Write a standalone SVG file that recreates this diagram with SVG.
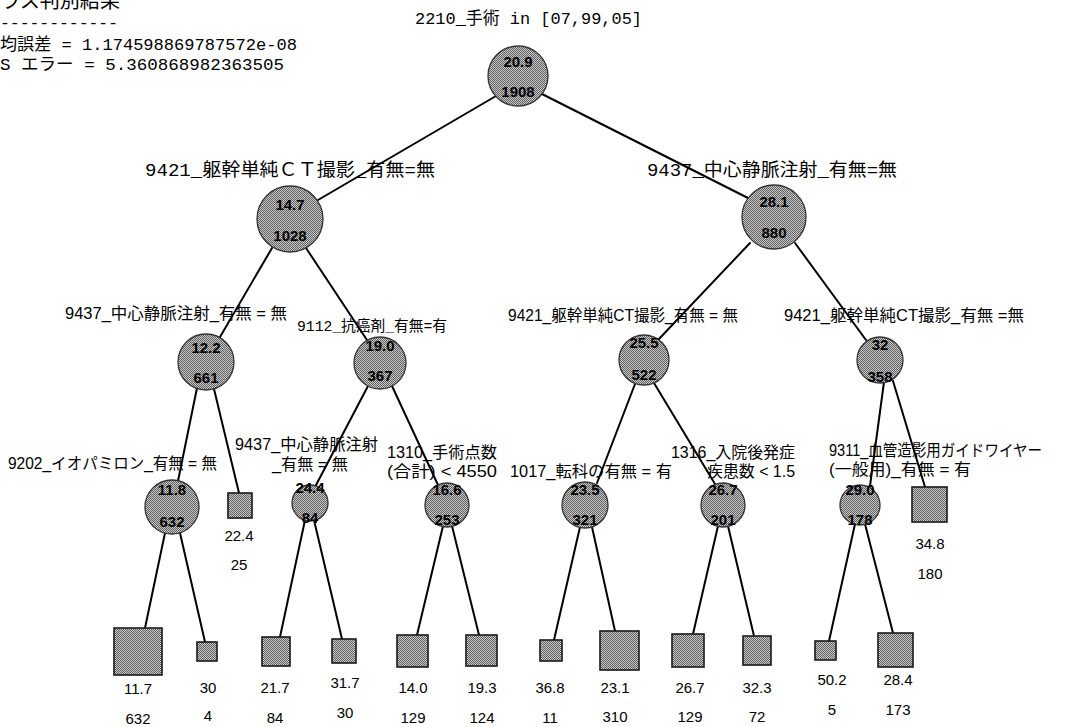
<svg xmlns="http://www.w3.org/2000/svg" width="1068" height="727" viewBox="0 0 1068 727">
<defs>
<pattern id="dots" width="2" height="2" patternUnits="userSpaceOnUse"><rect width="2" height="2" fill="#cacaca"/><rect width="1" height="1" fill="#5e5e5e"/><rect x="1" y="1" width="1" height="1" fill="#5e5e5e"/></pattern>
<style>
.e{stroke:#000;stroke-width:2;fill:none;stroke-linecap:round}
.c{fill:url(#dots);stroke:#333;stroke-width:1.3}
.s{fill:url(#dots);stroke:#1a1a1a;stroke-width:1.6}
.v{font-family:"Liberation Sans",Arial,sans-serif;font-weight:bold;font-size:15px;text-anchor:middle;fill:#000}
.lv{font-family:"Liberation Sans",Arial,sans-serif;font-size:15px;text-anchor:middle;fill:#000}
.l{font-family:"Liberation Sans","Noto Sans CJK JP",sans-serif;font-size:16px;fill:#000}
.m{font-family:"Liberation Mono","Noto Sans CJK JP",monospace;font-size:17px;fill:#000}
.m19{font-family:"Liberation Mono","Noto Sans CJK JP",monospace;font-size:18px;fill:#000}
.m15{font-family:"Liberation Mono","Noto Sans CJK JP",monospace;font-size:15px;fill:#000}
</style>
</defs>
<rect width="1068" height="727" fill="#fff"/>
<g id="info">
<text class="m" x="0" y="8" style="font-size:20px" textLength="120" lengthAdjust="spacingAndGlyphs">ラス判別結果</text>
<text class="m" x="0" y="28" textLength="118" lengthAdjust="spacingAndGlyphs">------------</text>
<text class="m" x="0" y="50" textLength="297" lengthAdjust="spacingAndGlyphs">均誤差 = 1.174598869787572e-08</text>
<text class="m" x="0" y="70" textLength="284" lengthAdjust="spacingAndGlyphs">S エラー = 5.360868982363505</text>
</g>
<g id="connectors">
<line class="e" x1="496" y1="96" x2="318" y2="200"/>
<line class="e" x1="542" y1="94" x2="748" y2="198"/>
<line class="e" x1="272" y1="248" x2="220" y2="337"/>
<line class="e" x1="306" y1="248" x2="367" y2="340"/>
<line class="e" x1="750" y1="243" x2="658" y2="340"/>
<line class="e" x1="795" y1="243" x2="866" y2="340"/>
<line class="e" x1="197" y1="388" x2="178" y2="481"/>
<line class="e" x1="214" y1="389" x2="239" y2="493"/>
<line class="e" x1="368" y1="386" x2="315" y2="487"/>
<line class="e" x1="392" y1="386" x2="438" y2="485"/>
<line class="e" x1="635" y1="384" x2="597" y2="483"/>
<line class="e" x1="654" y1="383" x2="715" y2="484"/>
<line class="e" x1="884" y1="382" x2="870" y2="486"/>
<line class="e" x1="893" y1="381" x2="925" y2="487"/>
<line class="e" x1="165" y1="533" x2="145" y2="628"/>
<line class="e" x1="180" y1="533" x2="205" y2="642"/>
<line class="e" x1="305" y1="520" x2="280" y2="637"/>
<line class="e" x1="314" y1="520" x2="342" y2="639"/>
<line class="e" x1="443" y1="526" x2="417" y2="635"/>
<line class="e" x1="452" y1="526" x2="479" y2="635"/>
<line class="e" x1="580" y1="527" x2="554" y2="640"/>
<line class="e" x1="592" y1="527" x2="615" y2="631"/>
<line class="e" x1="718" y1="526" x2="693" y2="634"/>
<line class="e" x1="728" y1="526" x2="754" y2="636"/>
<line class="e" x1="855" y1="524" x2="829" y2="641"/>
<line class="e" x1="865" y1="524" x2="893" y2="633"/>
</g>
<g id="n0">
<text class="m" x="415" y="24" textLength="227" lengthAdjust="spacingAndGlyphs">2210_手術 in [07,99,05]</text>
<circle class="c" cx="518" cy="76" r="30"/>
<text class="v" x="518" y="67">20.9</text><text class="v" x="518" y="97">1908</text>
</g>
<g id="n1">
<text class="m19" x="145" y="176" textLength="290" lengthAdjust="spacingAndGlyphs">9421_躯幹単純ＣＴ撮影_有無=無</text>
<circle class="c" cx="290" cy="219" r="33"/>
<text class="v" x="290" y="210">14.7</text><text class="v" x="290" y="241">1028</text>
</g>
<g id="n2">
<text class="m19" x="647" y="176" textLength="250" lengthAdjust="spacingAndGlyphs">9437_中心静脈注射_有無=無</text>
<circle class="c" cx="774" cy="217" r="32"/>
<text class="v" x="774" y="207">28.1</text><text class="v" x="774" y="238">880</text>
</g>
<g id="n3">
<text class="l" x="65" y="319" textLength="222" lengthAdjust="spacingAndGlyphs">9437_中心静脈注射_有無 = 無</text>
<circle class="c" cx="206" cy="362" r="28"/>
<text class="v" x="206" y="353">12.2</text><text class="v" x="206" y="383">661</text>
</g>
<g id="n4">
<text class="m15" x="297" y="331" textLength="150" lengthAdjust="spacingAndGlyphs">9112_抗癌剤_有無=有</text>
<circle class="c" cx="380" cy="363" r="26"/>
<text class="v" x="380" y="351">19.0</text><text class="v" x="380" y="381">367</text>
</g>
<g id="n5">
<text class="l" x="508" y="321" textLength="230" lengthAdjust="spacingAndGlyphs">9421_躯幹単純CT撮影_有無 = 無</text>
<circle class="c" cx="644" cy="360" r="25"/>
<text class="v" x="644" y="348">25.5</text><text class="v" x="644" y="380">522</text>
</g>
<g id="n6">
<text class="l" x="784" y="321" textLength="240" lengthAdjust="spacingAndGlyphs">9421_躯幹単純CT撮影_有無 =無</text>
<circle class="c" cx="880" cy="360" r="23"/>
<text class="v" x="880" y="350">32</text><text class="v" x="880" y="382">358</text>
</g>
<g id="n7">
<text class="l" x="8" y="469" textLength="209" lengthAdjust="spacingAndGlyphs">9202_イオパミロン_有無 = 無</text>
<circle class="c" cx="172" cy="507" r="27"/>
<text class="v" x="172" y="495">11.8</text><text class="v" x="172" y="527">632</text>
</g>
<g id="n8">
<rect class="s" x="228" y="493" width="24" height="25"/>
<text class="lv" x="239" y="541">22.4</text><text class="lv" x="239" y="570">25</text>
</g>
<g id="n9">
<text class="l" x="235" y="450" textLength="143" lengthAdjust="spacingAndGlyphs">9437_中心静脈注射</text>
<text class="l" x="272" y="470" textLength="76" lengthAdjust="spacingAndGlyphs">_有無 = 無</text>
<circle class="c" cx="310" cy="503" r="18"/>
<text class="v" x="310" y="493">24.4</text><text class="v" x="310" y="523">84</text>
</g>
<g id="n10">
<text class="l" x="387" y="458" textLength="110" lengthAdjust="spacingAndGlyphs">1310_手術点数</text>
<text class="l" x="387" y="477" textLength="110" lengthAdjust="spacingAndGlyphs">(合計) &lt; 4550</text>
<circle class="c" cx="447" cy="505" r="22"/>
<text class="v" x="447" y="495">16.6</text><text class="v" x="447" y="525">253</text>
</g>
<g id="n11">
<text class="l" x="510" y="477" textLength="162" lengthAdjust="spacingAndGlyphs">1017_転科の有無 = 有</text>
<circle class="c" cx="585" cy="505" r="23"/>
<text class="v" x="585" y="495">23.5</text><text class="v" x="585" y="525">321</text>
</g>
<g id="n12">
<text class="l" x="671" y="458" textLength="124" lengthAdjust="spacingAndGlyphs">1316_入院後発症</text>
<text class="l" x="707" y="477" textLength="88" lengthAdjust="spacingAndGlyphs">疾患数 &lt; 1.5</text>
<circle class="c" cx="723" cy="505" r="22"/>
<text class="v" x="723" y="495">26.7</text><text class="v" x="723" y="525">201</text>
</g>
<g id="n13">
<text class="l" x="829" y="456" textLength="213" lengthAdjust="spacingAndGlyphs">9311_血管造影用ガイドワイヤー</text>
<text class="l" x="829" y="475" textLength="142" lengthAdjust="spacingAndGlyphs">(一般用)_有無 = 有</text>
<circle class="c" cx="860" cy="505" r="20"/>
<text class="v" x="860" y="495">29.0</text><text class="v" x="860" y="525">178</text>
</g>
<g id="n14">
<rect class="s" x="912" y="487" width="35" height="35"/>
<text class="lv" x="930" y="549">34.8</text><text class="lv" x="930" y="579">180</text>
</g>
<g id="leaf1"><rect class="s" x="114" y="628" width="48" height="47"/><text class="lv" x="138" y="694">11.7</text><text class="lv" x="138" y="724">632</text></g>
<g id="leaf2"><rect class="s" x="197" y="642" width="20" height="19"/><text class="lv" x="208" y="693">30</text><text class="lv" x="208" y="721">4</text></g>
<g id="leaf3"><rect class="s" x="262" y="637" width="28" height="29"/><text class="lv" x="275" y="693">21.7</text><text class="lv" x="275" y="723">84</text></g>
<g id="leaf4"><rect class="s" x="332" y="639" width="24" height="24"/><text class="lv" x="345" y="688">31.7</text><text class="lv" x="345" y="718">30</text></g>
<g id="leaf5"><rect class="s" x="397" y="635" width="31" height="32"/><text class="lv" x="413" y="693">14.0</text><text class="lv" x="413" y="723">129</text></g>
<g id="leaf6"><rect class="s" x="466" y="635" width="31" height="31"/><text class="lv" x="482" y="693">19.3</text><text class="lv" x="482" y="723">124</text></g>
<g id="leaf7"><rect class="s" x="540" y="640" width="22" height="21"/><text class="lv" x="550" y="693">36.8</text><text class="lv" x="550" y="723">11</text></g>
<g id="leaf8"><rect class="s" x="600" y="631" width="39" height="39"/><text class="lv" x="615" y="693">23.1</text><text class="lv" x="615" y="722">310</text></g>
<g id="leaf9"><rect class="s" x="672" y="634" width="32" height="33"/><text class="lv" x="690" y="693">26.7</text><text class="lv" x="690" y="722">129</text></g>
<g id="leaf10"><rect class="s" x="743" y="636" width="28" height="29"/><text class="lv" x="757" y="693">32.3</text><text class="lv" x="757" y="722">72</text></g>
<g id="leaf11"><rect class="s" x="815" y="641" width="21" height="19"/><text class="lv" x="832" y="685">50.2</text><text class="lv" x="832" y="715">5</text></g>
<g id="leaf12"><rect class="s" x="878" y="633" width="35" height="34"/><text class="lv" x="898" y="685">28.4</text><text class="lv" x="898" y="715">173</text></g>
</svg>
